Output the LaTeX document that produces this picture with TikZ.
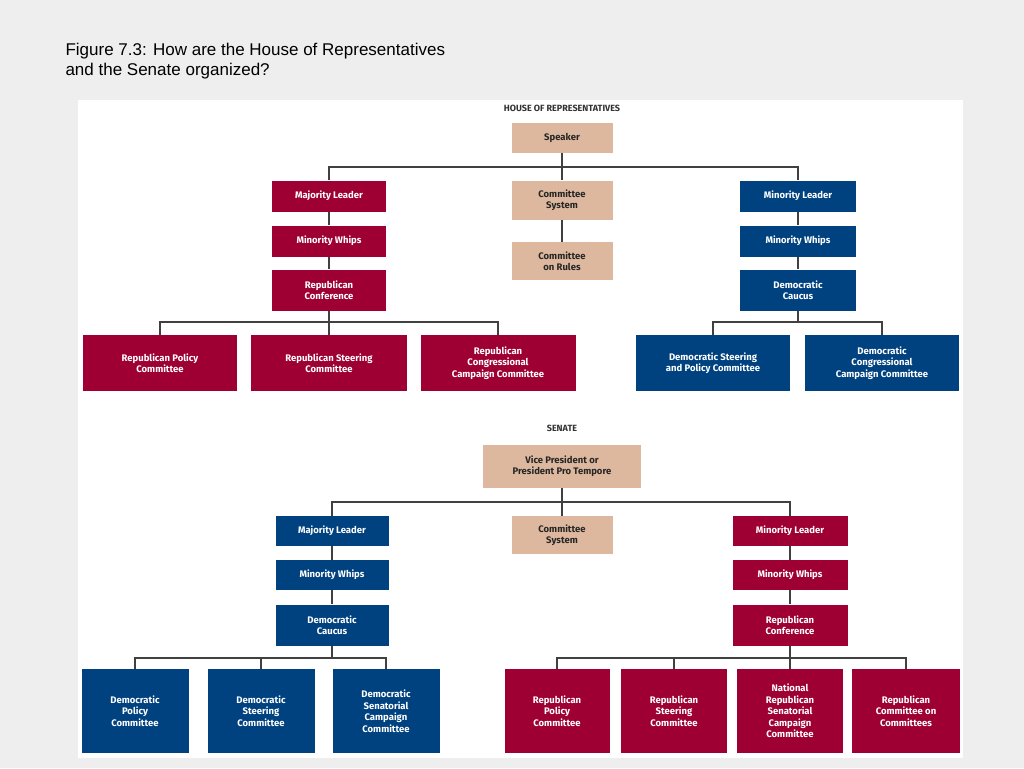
\documentclass[tikz,border=0pt]{standalone}
\usepackage{fontspec}
\setmainfont{Liberation Sans}
\newfontfamily\boxfont{Fira Sans}
\definecolor{rep}{HTML}{9E0033}
\definecolor{dem}{HTML}{00427F}
\definecolor{tan}{HTML}{DDB89E}
\definecolor{bg}{HTML}{EEEEEE}
\begin{document}
\begin{tikzpicture}[x=1pt,y=-1pt,
 bx/.style={minimum width=#1pt,inner sep=1pt,align=center,font=\boxfont\fontsize{9.5}{11.5}\selectfont\bfseries},
 r/.style={bx=#1,fill=rep,text=white}, d/.style={bx=#1,fill=dem,text=white}, t/.style={bx=#1,fill=tan,text=black!85},
 ln/.style={draw=black!75,line width=1.2pt}]
\fill[bg] (0,0) rectangle (1024,768);
\useasboundingbox (0,0) rectangle (1024,768);
\fill[white] (78,100) rectangle (963,758);
\node[anchor=west,font=\fontsize{17}{20}\selectfont,align=left] (title) at (62,61) {Figure 7.3: How are the House of Representatives\\and the Senate organized?};
% House
\node[font=\boxfont\fontsize{9}{10}\selectfont\bfseries,text=black!80] (ht) at (562,108) {HOUSE OF REPRESENTATIVES};
\node[t=101,minimum height=30pt] (sp) at (562,138) {Speaker};
\node[t=101,minimum height=39pt] (cs) at (562,200) {Committee\\System};
\node[t=101,minimum height=38pt] (cr) at (562,261) {Committee\\on Rules};
\node[r=114,minimum height=31pt] (ml) at (329,196) {Majority Leader};
\node[r=114,minimum height=31pt] (mw) at (329,241) {Minority Whips};
\node[r=114,minimum height=41pt] (rc) at (329,290) {Republican\\Conference};
\node[d=116,minimum height=31pt] (nl) at (798,196) {Minority Leader};
\node[d=116,minimum height=31pt] (nw) at (798,241) {Minority Whips};
\node[d=116,minimum height=41pt] (dc) at (798,290) {Democratic\\Caucus};
\node[r=154,minimum height=56pt] (h1) at (160,363) {Republican Policy\\Committee};
\node[r=156,minimum height=56pt] (h2) at (329,363) {Republican Steering\\Committee};
\node[r=155,minimum height=56pt] (h3) at (498,363) {Republican\\Congressional\\Campaign Committee};
\node[d=154,minimum height=56pt] (h4) at (713,363) {Democratic Steering\\and Policy Committee};
\node[d=154,minimum height=56pt] (h5) at (882,363) {Democratic\\Congressional\\Campaign Committee};
\draw[ln] (sp) -- (cs); \draw[ln] (cs) -- (cr);
\draw[ln] (ml.north) -- (ml.north|-0,167) -- (nl.north|-0,167) -- (nl.north);
\draw[ln] (ml) -- (mw); \draw[ln] (mw) -- (rc); \draw[ln] (nl) -- (nw); \draw[ln] (nw) -- (dc);
\draw[ln] (rc) -- (rc.south|-0,322);
\draw[ln] (h1.north) -- (h1.north|-0,322) -- (h3.north|-0,322) -- (h3.north);
\draw[ln] (h2.north) -- (h2.north|-0,322);
\draw[ln] (dc) -- (dc.south|-0,322);
\draw[ln] (h4.north) -- (h4.north|-0,322) -- (h5.north|-0,322) -- (h5.north);
% Senate
\node[font=\boxfont\fontsize{9}{10}\selectfont\bfseries,text=black!80] (st) at (562,428) {SENATE};
\node[t=158,minimum height=43pt] (vp) at (562,466) {Vice President or\\President Pro Tempore};
\node[t=101,minimum height=38pt] (scs) at (562,535) {Committee\\System};
\node[d=113,minimum height=30pt] (sml) at (332,531) {Majority Leader};
\node[d=113,minimum height=30pt] (smw) at (332,575) {Minority Whips};
\node[d=113,minimum height=41pt] (sdc) at (332,625) {Democratic\\Caucus};
\node[r=115,minimum height=30pt] (snl) at (790,531) {Minority Leader};
\node[r=115,minimum height=30pt] (snw) at (790,575) {Minority Whips};
\node[r=115,minimum height=41pt] (src) at (790,625) {Republican\\Conference};
\node[d=107,minimum height=84pt] (s1) at (135,711) {Democratic\\Policy\\Committee};
\node[d=107,minimum height=84pt] (s2) at (261,711) {Democratic\\Steering\\Committee};
\node[d=107,minimum height=84pt] (s3) at (386,711) {Democratic\\Senatorial\\Campaign\\Committee};
\node[r=105,minimum height=84pt] (s4) at (557,711) {Republican\\Policy\\Committee};
\node[r=106,minimum height=84pt] (s5) at (674,711) {Republican\\Steering\\Committee};
\node[r=106,minimum height=84pt] (s6) at (790,711) {National\\Republican\\Senatorial\\Campaign\\Committee};
\node[r=108,minimum height=84pt] (s7) at (906,711) {Republican\\Committee on\\Committees};
\draw[ln] (vp) -- (scs);
\draw[ln] (sml.north) -- (sml.north|-0,502) -- (snl.north|-0,502) -- (snl.north);
\draw[ln] (sml) -- (smw); \draw[ln] (smw) -- (sdc); \draw[ln] (snl) -- (snw); \draw[ln] (snw) -- (src);
\draw[ln] (sdc) -- (sdc.south|-0,658);
\draw[ln] (s1.north) -- (s1.north|-0,658) -- (s3.north|-0,658) -- (s3.north);
\draw[ln] (s2.north) -- (s2.north|-0,658);
\draw[ln] (src) -- (src.south|-0,658);
\draw[ln] (s4.north) -- (s4.north|-0,658) -- (s7.north|-0,658) -- (s7.north);
\draw[ln] (s5.north) -- (s5.north|-0,658);
\draw[ln] (s6.north) -- (s6.north|-0,658);
\end{tikzpicture}
\end{document}
